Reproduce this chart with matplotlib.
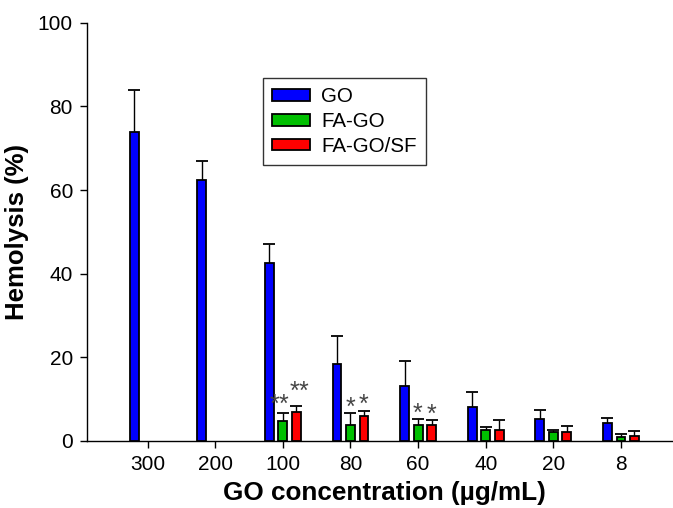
import numpy as np
import matplotlib
matplotlib.use("Agg")
import matplotlib.pyplot as plt

plt.rcParams["font.family"] = ["Liberation Sans", "DejaVu Sans"]
plt.rcParams["mathtext.fontset"] = "custom"
plt.rcParams["mathtext.rm"] = "Liberation Sans"

# --- data --------------------------------------------------------------
concs = ["300", "200", "100", "80", "60", "40", "20", "8"]
go = [74.0, 62.5, 42.5, 18.5, 13.2, 8.0, 5.2, 4.4]
go_err = [10.0, 4.5, 4.5, 6.5, 5.9, 3.6, 2.2, 1.1]
fa_go = [np.nan, np.nan, 4.8, 3.9, 3.8, 2.5, 2.1, 1.0]
fa_go_err = [np.nan, np.nan, 1.8, 2.7, 1.5, 0.9, 0.6, 0.7]
fa_go_sf = [np.nan, np.nan, 6.9, 5.9, 3.7, 2.5, 2.2, 1.3]
fa_go_sf_err = [np.nan, np.nan, 1.4, 1.2, 1.3, 2.6, 1.3, 1.1]

# significance marks: (group index, series index, n stars, y of star centre)
stars = [(2, 1, 2, 9.8), (2, 2, 2, 12.9),
         (3, 1, 1, 9.1), (3, 2, 1, 9.8),
         (4, 1, 1, 7.7), (4, 2, 1, 7.4)]

series = [("GO", go, go_err, "#0000ff"),
          ("FA-GO", fa_go, fa_go_err, "#00c000"),
          ("FA-GO/SF", fa_go_sf, fa_go_sf_err, "#ff0000")]

fig = plt.figure(figsize=(6.73, 5.08), dpi=100)
ax = fig.add_axes([0.129, 0.132, 0.871, 0.823])

x = np.arange(len(concs))
offsets = [-0.2, 0.0, 0.2]
width = 0.13

for (name, vals, errs, color), off in zip(series, offsets):
    vals = np.array(vals)
    errs = np.array(errs)
    ax.bar(x + off, vals, width, color=color, edgecolor="black",
           linewidth=1.3, label=name, zorder=3)
    ok = ~np.isnan(vals)
    _, caps, _ = ax.errorbar(x[ok] + off, vals[ok],
                             yerr=[np.zeros(ok.sum()), errs[ok]],
                             fmt="none", ecolor="black", elinewidth=1.0,
                             capsize=4.3, capthick=1.3, zorder=2)
    caps[0].set_visible(False)   # only the upper cap

# mathtext keeps the text box tight round the asterisks;
# the glyph sits high in the em box -> drop the baseline a bit.
# double stars get nudged apart so the two pairs don't collide
for gi, si, n, yc in stars:
    lab = r"$\mathrm{" + "{*}" * n + "}$"
    dx = 0 if n == 1 else (-2.2 if si == 1 else 2.2)
    ax.annotate(lab, (x[gi] + offsets[si], yc), xytext=(dx, -8),
                textcoords="offset points", ha="center", va="baseline",
                fontsize=18, color="#454545", zorder=4)

ax.set_xlim(-0.9, 7.77)
ax.set_ylim(0, 100)
ax.set_xticks(x)
ax.set_xticklabels(concs)
ax.set_yticks([0, 20, 40, 60, 80, 100])
ax.tick_params(axis="both", direction="out", length=5, width=1.0,
               labelsize=15, pad=5)
for side in ("top", "right"):
    ax.spines[side].set_visible(False)
for side in ("left", "bottom"):
    ax.spines[side].set_linewidth(1.0)

ax.set_ylabel("Hemolysis (%)", fontsize=18.5, fontweight="bold", labelpad=6)
ax.set_xlabel("GO concentration (\u00b5g/mL)", fontsize=18.8, fontweight="bold")
ax.xaxis.set_label_coords(0.508, -0.095)

leg = ax.legend(loc="upper left", bbox_to_anchor=(0.30, 0.868),
                borderaxespad=0, fontsize=14.8, frameon=True, fancybox=False,
                edgecolor="black", handlelength=1.85, handleheight=0.5,
                handletextpad=0.55, labelspacing=0.28, borderpad=0.45)
leg.get_frame().set_linewidth(1.0)

fig.savefig("out.png", dpi=100)
